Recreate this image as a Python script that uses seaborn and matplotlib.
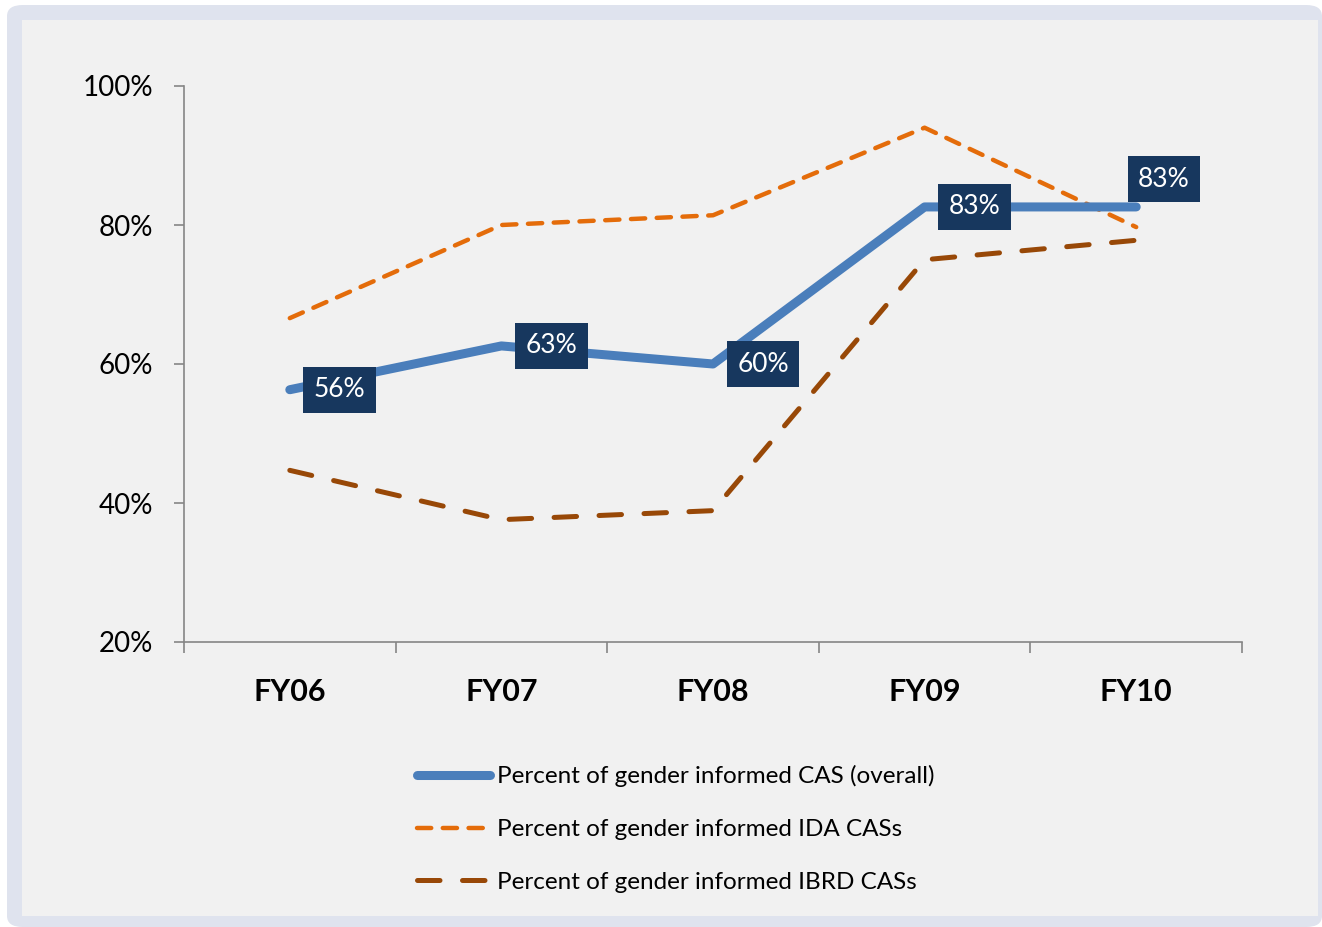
import pandas as pd
import matplotlib.pyplot as plt
import seaborn as sns
from matplotlib.patches import FancyBboxPatch, Rectangle
from matplotlib.lines import Line2D

# Dados
years = ["FY06", "FY07", "FY08", "FY09", "FY10"]
overall = [0.563, 0.626, 0.600, 0.826, 0.826]
ida = [0.666, 0.800, 0.814, 0.940, 0.797]
ibrd = [0.447, 0.376, 0.389, 0.750, 0.778]
labels = ["56%", "63%", "60%", "83%", "83%"]
series_names = [
    "Percent of gender informed CAS (overall)",
    "Percent of gender informed IDA CASs",
    "Percent of gender informed IBRD CASs",
]

sns.set_theme(style="white")
plt.rcParams['font.family'] = ['Lato', 'DejaVu Sans']
plt.rcParams['text.color'] = 'black'

W, H = 1322, 927
fig = plt.figure(figsize=(W / 100, H / 100), dpi=100)
fig.patch.set_facecolor("white")

# moldura externa e área interna
fig.patches.append(FancyBboxPatch((7 / W, 0), (W - 7) / W, (H - 5) / H,
                                  boxstyle="round,pad=0,rounding_size=0.012",
                                  transform=fig.transFigure, facecolor="#DFE3EE",
                                  edgecolor="none", zorder=0))
fig.patches.append(Rectangle((22 / W, 11 / H), (1318 - 22) / W, (916 - 20) / H,
                             transform=fig.transFigure, facecolor="#F1F1F1",
                             edgecolor="none", zorder=1))

ax = fig.add_axes([184 / W, 1 - 642 / H, (1242 - 184) / W, (642 - 86) / H])
ax.set_facecolor("none")
ax.set_zorder(2)

df = pd.DataFrame({"year": years, "overall": overall, "ida": ida, "ibrd": ibrd})
df["x"] = range(len(years))

sns.lineplot(data=df, x="x", y="ida", ax=ax, color="#E46C0A", linewidth=3.2, zorder=3)
ax.lines[-1].set_dashes([3.2, 2.6])
sns.lineplot(data=df, x="x", y="ibrd", ax=ax, color="#984807", linewidth=3.6, zorder=3)
ax.lines[-1].set_dashes([4.5, 4.5])
sns.lineplot(data=df, x="x", y="overall", ax=ax, color="#4A7EBB", linewidth=6.5, zorder=4)
for ln in ax.lines:
    ln.set_solid_capstyle("round")
    ln.set_dash_capstyle("round")

# rótulos de dados
for i, (v, lab) in enumerate(zip(overall, labels)):
    off = (20, 20) if i == len(overall) - 1 else (36, 0)
    ax.annotate(lab, (i, v), xytext=off, textcoords="offset points",
                ha="center", va="center", color="white", fontsize=19,
                bbox=dict(boxstyle="square,pad=0.4", facecolor="#17375E",
                          edgecolor="none"), zorder=6)

ax.set_xlim(-0.5, 4.5)
ax.set_ylim(0.2, 1.0)
ax.set_yticks([0.2, 0.4, 0.6, 0.8, 1.0])
ax.set_yticklabels(["20%", "40%", "60%", "80%", "100%"], fontsize=20, color="black")
ax.set_xticks(range(len(years)))
ax.set_xticklabels(years, fontsize=22, fontweight="bold", color="black")
ax.set_xticks([i - 0.5 for i in range(len(years) + 1)], minor=True)
ax.tick_params(axis="x", which="major", length=0, pad=26)
ax.tick_params(axis="x", which="minor", length=8, width=1.2, color="#868686",
               direction="out", bottom=True)
ax.tick_params(axis="y", length=7, width=1.2, color="#868686", direction="out",
               pad=15, left=True)
ax.set_xlabel("")
ax.set_ylabel("")
for s in ["top", "right"]:
    ax.spines[s].set_visible(False)
for s in ["left", "bottom"]:
    ax.spines[s].set_color("#868686")
    ax.spines[s].set_linewidth(1.2)

handles = [
    Line2D([], [], color="#4A7EBB", linewidth=6.5, solid_capstyle="round"),
    Line2D([], [], color="#E46C0A", linewidth=3.2, dashes=[3.2, 2.6], dash_capstyle="round"),
    Line2D([], [], color="#984807", linewidth=3.6, dashes=[4.5, 4.5], dash_capstyle="round"),
]
leg = fig.legend(handles, series_names, loc="center", bbox_to_anchor=(676 / W, 1 - 829 / H),
                 frameon=False, fontsize=17.5, handlelength=3.0, handletextpad=0.3,
                 labelspacing=1.3)
leg.set_zorder(5)

plt.savefig("out.png", dpi=100, facecolor=fig.get_facecolor())
